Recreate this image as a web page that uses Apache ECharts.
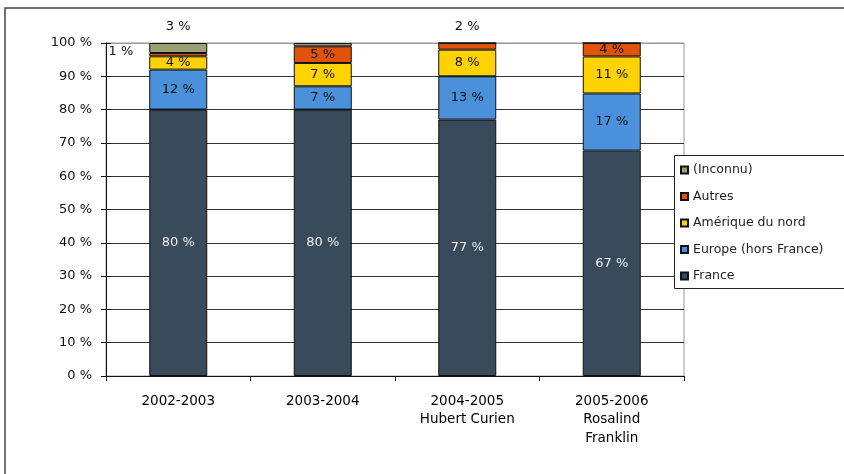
<!DOCTYPE html>
<html>
<head>
<meta charset="utf-8">
<script src="https://cdn.jsdelivr.net/npm/echarts@6/dist/echarts.min.js"></script>
<style>
    html, body { margin: 0; padding: 0; background: #fff; }
    #chart { width: 844px; height: 474px; }
</style>
</head>
<body>
<div id="chart"></div>
<script>
const categories = ['2002-2003', '2003-2004', '2004-2005\nHubert Curien', '2005-2006\nRosalind\nFranklin'];
const france = [80, 80, 77, 67];
const europe = [12, 7, 13, 17];
const amerique = [4, 7, 8, 11];
const autres = [1, 5, 2, 4];
const inconnu = [3, 1, 0, 0];
const yTicks = [0, 10, 20, 30, 40, 50, 60, 70, 80, 90, 100];

const FONT = '"DejaVu Sans", Verdana, sans-serif';

// shares for a 100% stacked bar (each column sums to 100)
const totals = categories.map((c, i) => france[i] + europe[i] + amerique[i] + autres[i] + inconnu[i]);

const seriesDefs = [
    {name: 'France', raw: france, color: '#394a5b', labelColor: '#eeeeee'},
    {name: 'Europe (hors France)', raw: europe, color: '#4a90da', labelColor: '#111'},
    {name: 'Amérique du nord', raw: amerique, color: '#ffd200', labelColor: '#111'},
    {name: 'Autres', raw: autres, color: '#e0540a', labelColor: '#111'},
    {name: '(Inconnu)', raw: inconnu, color: '#9a9f74', labelColor: '#111'},
];

// small segments whose label sits outside the bar
const outside = {
    'Autres': {0: {position: 'left', distance: 16, offset: [0, -3]}, 2: {position: 'top', distance: 10}},
    '(Inconnu)': {0: {position: 'top', distance: 10}},
};
const hidden = {'(Inconnu)': [1]};

const pct = v => v + ' %';

const series = seriesDefs.map(def => ({
    name: def.name,
    type: 'bar',
    stack: 'total',
    barWidth: 58,
    itemStyle: {color: def.color, borderColor: '#111', borderWidth: 1},
    label: {
        show: true,
        position: 'inside',
        color: def.labelColor,
        fontFamily: FONT,
        fontSize: 13,
        formatter: p => pct(def.raw[p.dataIndex]),
    },
    data: def.raw.map((v, i) => {
        const item = {value: v / totals[i] * 100};
        const o = outside[def.name] && outside[def.name][i];
        if (v === 0 || (hidden[def.name] || []).includes(i)) {
            item.label = {show: false};
        } else if (o) {
            item.label = {...o, color: '#111'};
        }
        return item;
    }),
}));

const splitColors = yTicks.map(t => t === 100 ? '#999' : '#333');

const chart = echarts.init(document.getElementById('chart'), null, {renderer: 'canvas'});
chart.setOption({
    animation: false,
    backgroundColor: '#fff',
    grid: {left: 106, right: 160, top: 43, bottom: 98, show: true, borderColor: '#999', borderWidth: 1},
    legend: {
        orient: 'vertical',
        left: 680,
        top: 163,
        padding: 0,
        itemWidth: 7,
        itemHeight: 7,
        itemGap: 12.5,
        icon: 'rect',
        z: 5,
        data: ['(Inconnu)', 'Autres', 'Amérique du nord', 'Europe (hors France)', 'France'],
        textStyle: {fontFamily: FONT, fontSize: 12.5, color: '#222', lineHeight: 14},
    },
    graphic: [
        {type: 'rect', z: 0, silent: true, shape: {x: 5, y: 8, width: 900, height: 500},
            style: {fill: 'none', stroke: '#444', lineWidth: 1.5}},
        {type: 'rect', z: 4, silent: true, shape: {x: 674.5, y: 155.5, width: 200, height: 133},
            style: {fill: '#fff', stroke: '#222', lineWidth: 1}},
    ],
    xAxis: {
        type: 'category',
        data: categories,
        axisLine: {lineStyle: {color: '#111', width: 1}},
        axisTick: {show: true, length: 5, lineStyle: {color: '#111'}},
        axisLabel: {fontFamily: FONT, fontSize: 13.5, color: '#000', margin: 16, lineHeight: 18.5, interval: 0},
    },
    yAxis: [
        {
            type: 'value',
            min: 0,
            max: 100,
            interval: 10,
            axisLine: {show: true, lineStyle: {color: '#111'}},
            axisTick: {show: true, length: 5, lineStyle: {color: '#111'}},
            axisLabel: {fontFamily: FONT, fontSize: 13, color: '#111', margin: 14, formatter: pct},
            splitLine: {show: true, lineStyle: {color: splitColors, width: 1}},
        },
        {
            type: 'value',
            position: 'left',
            min: 0,
            max: 100,
            interval: 10,
            axisLine: {show: false},
            axisTick: {show: true, inside: true, length: 5, lineStyle: {color: '#111'}},
            axisLabel: {show: false},
            splitLine: {show: false},
        },
    ],
    series,
});
</script>
</body>
</html>
